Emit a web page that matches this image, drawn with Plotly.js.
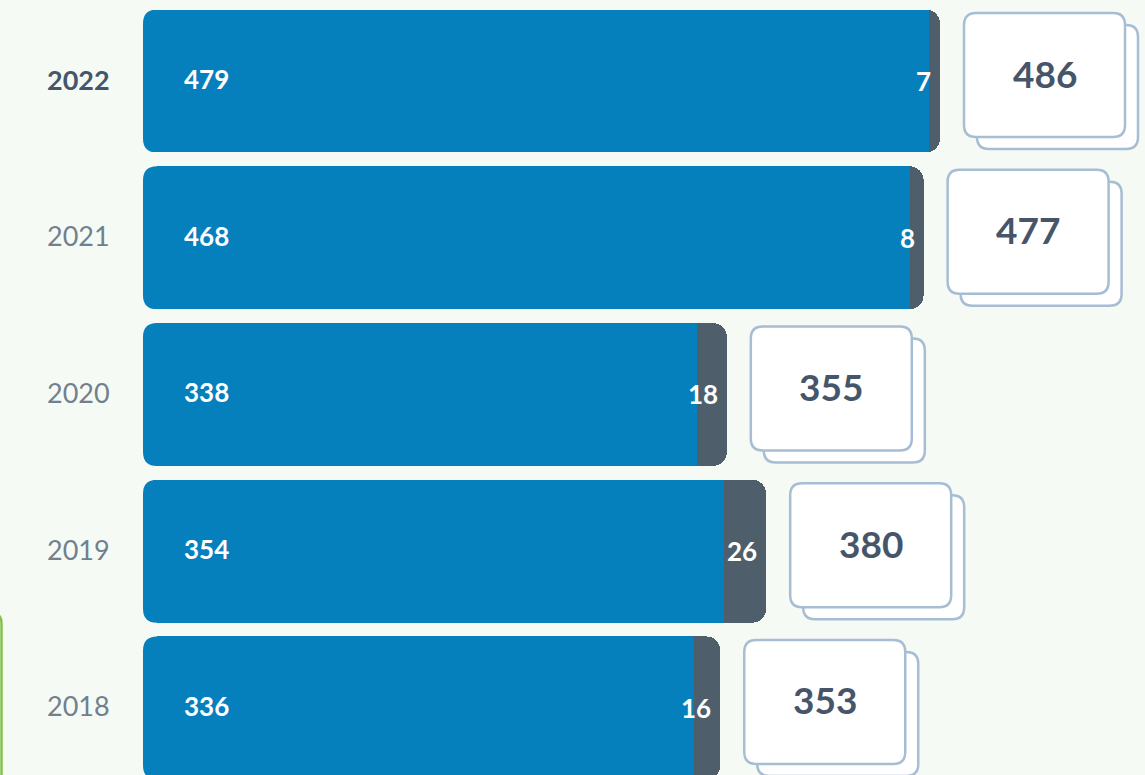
<!DOCTYPE html>
<html>
<head>
<meta charset="utf-8">
<script src="https://cdn.plot.ly/plotly-3.0.1.min.js"></script>
<style>
html,body{margin:0;padding:0;background:#F5FAF4;}
#chart{width:1145px;height:775px;}
</style>
</head>
<body>
<div id="chart"></div>
<script>
// ---- data ----
const years = ['2022', '2021', '2020', '2019', '2018'];
const mainValues = [479, 468, 338, 354, 336];
const otherValues = [7, 8, 18, 26, 16];
const totalLabels = [486, 477, 355, 380, 353];

// ---- style ----
const BG = '#F5FAF4';
const BLUE = '#0680BD';
const DARK = '#4E5F6B';
const TEXT_DARK = '#465569';
const TEXT_LIGHT = '#727F8C';
const CARD_BORDER = '#A6BDD4';
const FONT = 'Lato, "Open Sans", sans-serif';

const idx = years.map((_, i) => i);
const ends = mainValues.map((v, i) => v + otherValues[i]);

function rr(x0, x1, y0, y1, r) {
  return `M ${x0 + r},${y1} L ${x1 - r},${y1} Q ${x1},${y1} ${x1},${y1 - r} ` +
         `L ${x1},${y0 + r} Q ${x1},${y0} ${x1 - r},${y0} L ${x0 + r},${y0} ` +
         `Q ${x0},${y0} ${x0},${y0 + r} L ${x0},${y1 - r} Q ${x0},${y1} ${x0 + r},${y1} Z`;
}

const traces = [
  {
    type: 'bar', orientation: 'h', x: mainValues, y: idx,
    marker: {color: BLUE, line: {width: 0}}, width: 0.912,
    hoverinfo: 'skip', showlegend: false
  },
  {
    type: 'bar', orientation: 'h', x: otherValues, y: idx,
    marker: {color: DARK, line: {width: 0}}, width: 0.912,
    hoverinfo: 'skip', showlegend: false
  }
];

const shapes = [];
const annotations = [];
const GAP = 24, CW = 161, CTOP = 68, CBOT = -56, OFFX = 13, OFFY = -12, CR = 12;
const HALF = 71.5, BR = 14;

years.forEach((yr, i) => {
  // left rounded-corner masks of the bar
  shapes.push({
    type: 'path', layer: 'above', xref: 'x', yref: 'y',
    xsizemode: 'pixel', ysizemode: 'pixel', xanchor: 0, yanchor: i,
    path: `M -1,${HALF + 1} L ${BR},${HALF + 1} L ${BR},${HALF} Q 0,${HALF} 0,${HALF - BR} L -1,${HALF - BR} Z ` +
          `M -1,${-HALF - 1} L ${BR},${-HALF - 1} L ${BR},${-HALF} Q 0,${-HALF} 0,${-HALF + BR} L -1,${-HALF + BR} Z`,
    fillcolor: BG, line: {width: 0}
  });
  // back card
  shapes.push({
    type: 'path', layer: 'above', xref: 'x', yref: 'y',
    xsizemode: 'pixel', ysizemode: 'pixel', xanchor: ends[i], yanchor: i,
    path: rr(GAP + OFFX, GAP + OFFX + CW, CBOT + OFFY, CTOP + OFFY, CR),
    fillcolor: '#FFFFFF', line: {color: CARD_BORDER, width: 2.5}
  });
  // front card
  shapes.push({
    type: 'path', layer: 'above', xref: 'x', yref: 'y',
    xsizemode: 'pixel', ysizemode: 'pixel', xanchor: ends[i], yanchor: i,
    path: rr(GAP, GAP + CW, CBOT, CTOP, CR),
    fillcolor: '#FFFFFF', line: {color: CARD_BORDER, width: 2.5}
  });

  // year label
  const bold = i === 0;
  annotations.push({
    xref: 'paper', x: 0, xshift: -31, xanchor: 'right',
    yref: 'y', y: i, yanchor: 'middle', yshift: 2,
    text: yr, showarrow: false,
    font: {family: FONT, size: 27, color: bold ? TEXT_DARK : TEXT_LIGHT, weight: bold ? 700 : 400}
  });
  // main value label
  annotations.push({
    xref: 'x', x: 0, xshift: 39, xanchor: 'left',
    yref: 'y', y: i, yanchor: 'middle', yshift: 2,
    text: String(mainValues[i]), showarrow: false,
    font: {family: FONT, size: 26, color: '#FFFFFF', weight: 700}
  });
  // other value label
  annotations.push({
    xref: 'x', x: ends[i], xshift: -7, xanchor: 'right',
    yref: 'y', y: i, yanchor: 'middle', yshift: 0,
    text: String(otherValues[i]), showarrow: false,
    font: {family: FONT, size: 26, color: '#FFFFFF', weight: 700}
  });
  // total in card
  annotations.push({
    xref: 'x', x: ends[i], xshift: GAP + CW / 2, xanchor: 'center',
    yref: 'y', y: i, yanchor: 'middle', yshift: 8,
    text: String(totalLabels[i]), showarrow: false,
    font: {family: FONT, size: 37, color: TEXT_DARK, weight: 700}
  });
});

// green container edge at left
shapes.push({
  type: 'path', layer: 'above', xref: 'paper', yref: 'paper',
  xsizemode: 'pixel', ysizemode: 'pixel', xanchor: 0, yanchor: 1,
  path: 'M -154,-612 Q -141.5,-612 -141.5,-624 L -141.5,-800',
  fillcolor: 'rgba(0,0,0,0)', line: {color: '#86C24F', width: 2.5}
});

const layout = {
  width: 1145, height: 775,
  margin: {l: 143, r: 0, t: 0, b: 0, pad: 0},
  paper_bgcolor: BG, plot_bgcolor: BG,
  barmode: 'stack', barcornerradius: 14,
  xaxis: {range: [0, 611], visible: false, fixedrange: true},
  yaxis: {range: [4.428, -0.517], visible: false, fixedrange: true},
  showlegend: false,
  shapes: shapes,
  annotations: annotations,
  font: {family: FONT}
};

Plotly.newPlot('chart', traces, layout, {staticPlot: true, displayModeBar: false});
</script>
</body>
</html>
